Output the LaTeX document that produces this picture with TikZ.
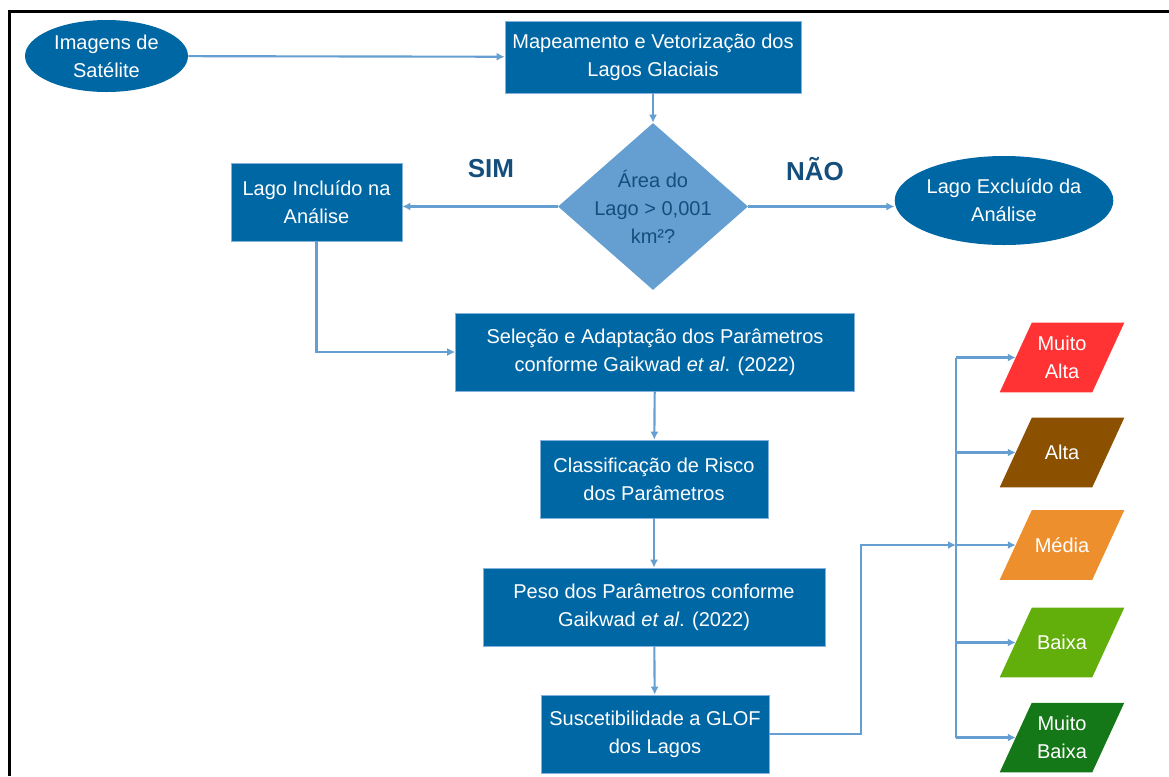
\documentclass[tikz,border=0pt]{standalone}
\usepackage{fontspec}
\setmainfont{Liberation Sans}
\usetikzlibrary{shapes.geometric,arrows.meta,backgrounds}
\definecolor{boxblue}{RGB}{0,103,165}
\definecolor{lineblue}{RGB}{101,159,209}
\definecolor{darkblue}{RGB}{20,78,124}
\definecolor{riskred}{RGB}{255,51,51}
\definecolor{riskbrown}{RGB}{139,80,0}
\definecolor{riskorange}{RGB}{238,143,46}
\definecolor{riskgreen}{RGB}{98,174,10}
\definecolor{riskdkgreen}{RGB}{21,120,24}

\begin{document}
\begin{tikzpicture}[x=0.75pt,y=0.75pt,yscale=-1,xscale=1,
  font=\fontsize{15}{21}\selectfont,
  box/.style={rectangle,fill=boxblue,draw=lineblue!80,line width=0.5pt,text=white,align=center,inner sep=0pt,minimum height=58.5pt},
  oval/.style={ellipse,fill=boxblue,text=white,align=center,inner sep=0pt},
  risk/.style={rectangle,text=white,align=center,inner sep=0pt,minimum width=69pt,minimum height=51.75pt},
  arr/.style={draw=lineblue,line width=1.6pt,-{Latex[length=6pt,width=6pt]}},
  line/.style={draw=lineblue,line width=1.6pt},
  answer/.style={text=darkblue,font=\fontsize{19.5}{22}\selectfont\bfseries}]
%set diagram at 1169 x 776
\useasboundingbox (0,0) rectangle (1169,776);
\draw[line width=2.25pt] (1169,11) -- (9,11) -- (9,776);

\node[oval,minimum width=122.25pt,minimum height=54pt] (img) at (106.5,56) {Imagens de\\Satélite};
\node[box,minimum width=222pt,minimum height=54pt] (mapa) at (653,57) {Mapeamento e Vetorização dos\\Lagos Glaciais};
\node[diamond,fill=lineblue,text=darkblue,align=center,inner sep=-5pt,minimum width=142.5pt,minimum height=125.25pt] (cond) at (653,206.5) {Área do\\Lago > 0,001\\km²?};
\node[box,minimum width=128.25pt] (incl) at (316.5,202) {Lago Incluído na\\Análise};
\node[oval,minimum width=147pt,minimum height=66.75pt] (excl) at (1004,200.5) {Lago Excluído da\\Análise};
\node[answer] (sim) at (491,169) {SIM};
\node[answer] (nao) at (815,169) {NÃO};
\node[box,minimum width=299.25pt] (selec) at (655,352) {Seleção e Adaptação dos Parâmetros\\conforme Gaikwad \textit{et al}. (2022)};
\node[box,minimum width=171pt] (class) at (654,479) {Classificação de Risco\\dos Parâmetros};
\node[box,minimum width=256.5pt] (peso) at (654,607) {Peso dos Parâmetros conforme\\Gaikwad \textit{et al}. (2022)};
\node[box,minimum width=171pt] (susc) at (655,734) {Suscetibilidade a GLOF\\dos Lagos};

% classes de suscetibilidade
\node[risk] (malta) at (1062,357.5) {Muito\\Alta};
\node[risk] (alta) at (1062,452.5) {Alta};
\node[risk] (media) at (1062,545) {Média};
\node[risk] (baixa) at (1062,642.5) {Baixa};
\node[risk] (mbaixa) at (1062,737.5) {Muito\\Baixa};
\begin{scope}[on background layer]
\foreach \r/\c in {malta/riskred,alta/riskbrown,media/riskorange,baixa/riskgreen,mbaixa/riskdkgreen}
  \fill[\c] ([xshift=-12pt]\r.south west) -- ([xshift=-12pt]\r.south east) -- ([xshift=12pt]\r.north east) -- ([xshift=12pt]\r.north west) -- cycle;
\end{scope}

\coordinate (elbow) at (861,734);
\coordinate (trunk) at (956,545);

\draw[arr] (img) -- (mapa);
\draw[arr] (mapa) -- (cond);
\draw[arr] (cond.west) -- (cond.west -| incl.east);
\draw[arr] (cond.east) -- (cond.east -| excl.west);
\draw[arr] (incl) |- (selec);
\draw[arr] (selec) -- (class);
\draw[arr] (class) -- (peso);
\draw[arr] (peso) -- (susc);
\draw[arr] (susc) -- (susc -| elbow) |- (media -| trunk);
\draw[line] (malta -| trunk) -- (mbaixa -| trunk);
\foreach \r in {malta,alta,media,baixa,mbaixa}
  \draw[arr] (\r -| trunk) -- (\r);
\end{tikzpicture}
\end{document}
